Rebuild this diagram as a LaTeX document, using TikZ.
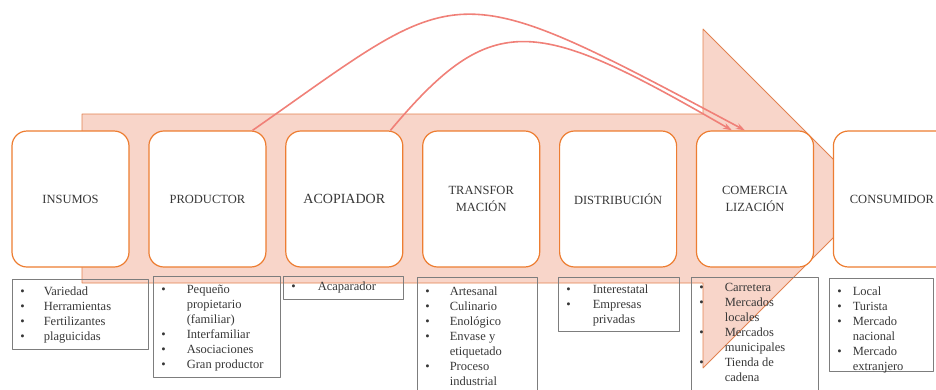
\documentclass[tikz,border=0pt]{standalone}
\usepackage{fontspec}
\setmainfont{Liberation Serif}
\usetikzlibrary{positioning,arrows.meta}
\definecolor{naranja}{RGB}{237,125,49}
\definecolor{rosa}{RGB}{248,213,201}
\definecolor{borde}{RGB}{226,130,80}
\definecolor{salmon}{RGB}{240,128,120}
\definecolor{texto}{RGB}{55,55,55}
\definecolor{marco}{RGB}{125,125,125}
% caja de lista: ancho, alto, margen superior, separacion, filas
\newcommand{\lista}[5]{%
  \begin{minipage}[c][#2pt][t]{#1pt}\vspace{#3pt}%
  \begin{tabular}{@{\hspace{8pt}}l@{\hspace{#4pt}}l@{}}#5\end{tabular}%
  \end{minipage}}
\begin{document}
\begin{tikzpicture}[x=1pt, y=-1pt, line join=round, >={Stealth[length=9pt,width=6pt]}]
	\tikzset{etapa/.style={draw=naranja, line width=1.2pt, fill=white, rounded corners=15pt,
			minimum width=117pt, minimum height=136pt, inner sep=0pt, align=center,
			text=texto, font=\fontsize{12.5}{17}\selectfont},
		lst/.style={draw=marco, line width=0.8pt, inner sep=0pt, anchor=north west,
			text=texto, font=\fontsize{12.5}{15}\selectfont},
		enlace/.style={->, draw=salmon, line width=1.6pt}}
	\useasboundingbox (0,0) rectangle (936,389);
	\clip (0,0) rectangle (936,389);
	% flecha de fondo
	\draw[fill=rosa, draw=borde, line width=0.8pt] (82,114) -- (703,114) -- (703,29) -- (872.5,198.5)
		-- (703,368) -- (703,283) -- (82,283) -- cycle;
	% listas
	\node[lst] (lins) at (12,279) {\lista{136}{70}{5.5}{19}{%
			\textbullet & Variedad\\ \textbullet & Herramientas\\ \textbullet & Fertilizantes\\ \textbullet & plaguicidas}};
	\node[lst] (lprod) at (153,276) {\lista{127}{101}{6.5}{21}{%
			\textbullet & Pequeño\\ & propietario\\ & (familiar)\\ \textbullet & Interfamiliar\\
			\textbullet & Asociaciones\\ \textbullet & Gran productor}};
	\node[lst] (lacop) at (283,276) {\lista{120}{23}{3.5}{22}{\textbullet & Acaparador}};
	\node[lst] (ltrans) at (417,277) {\lista{120}{125}{7.5}{20}{%
			\textbullet & Artesanal\\ \textbullet & Culinario\\ \textbullet & Enológico\\ \textbullet & Envase y\\
			& etiquetado\\ \textbullet & Proceso\\ & industrial}};
	\node[lst] (ldist) at (558,277) {\lista{121}{54}{5.5}{22}{%
			\textbullet & Interestatal\\ \textbullet & Empresas\\ & privadas}};
	\node[lst] (lcom) at (691,277) {\lista{127}{125}{3.5}{21}{%
			\textbullet & Carretera\\ \textbullet & Mercados\\ & locales\\ \textbullet & Mercados\\
			& municipales\\ \textbullet & Tienda de\\ & cadena}};
	\node[lst] (lcons) at (829,278) {\lista{104}{93}{6.5}{11}{%
			\textbullet & Local\\ \textbullet & Turista\\ \textbullet & Mercado\\ & nacional\\
			\textbullet & Mercado\\ & extranjero}};
	% etapas
	\node[etapa] (ins) at (70.5,199) {INSUMOS};
	\node[etapa, right=18.7pt of ins] (prod) {PRODUCTOR};
	\node[etapa, right=18.7pt of prod, font=\fontsize{14}{17}\selectfont] (acop) {ACOPIADOR};
	\node[etapa, right=18.7pt of acop] (trans) {TRANSFOR\\MACIÓN};
	\node[etapa, right=18.7pt of trans] (dist) {DISTRIBUCIÓN};
	\node[etapa, right=18.7pt of dist] (com) {COMERCIA\\LIZACIÓN};
	\node[etapa, right=18.7pt of com] (cons) {CONSUMIDOR};
	% enlaces directos
	\draw[enlace] ([xshift=-14pt]prod.north east) .. controls +(213,-149) and +(-300,-160) .. ([xshift=-10pt]com.north);
	\draw[enlace] ([xshift=-13pt]acop.north east) .. controls +(103,-123) and +(-196,-113) .. ([xshift=-23pt]com.north);
\end{tikzpicture}
\end{document}
